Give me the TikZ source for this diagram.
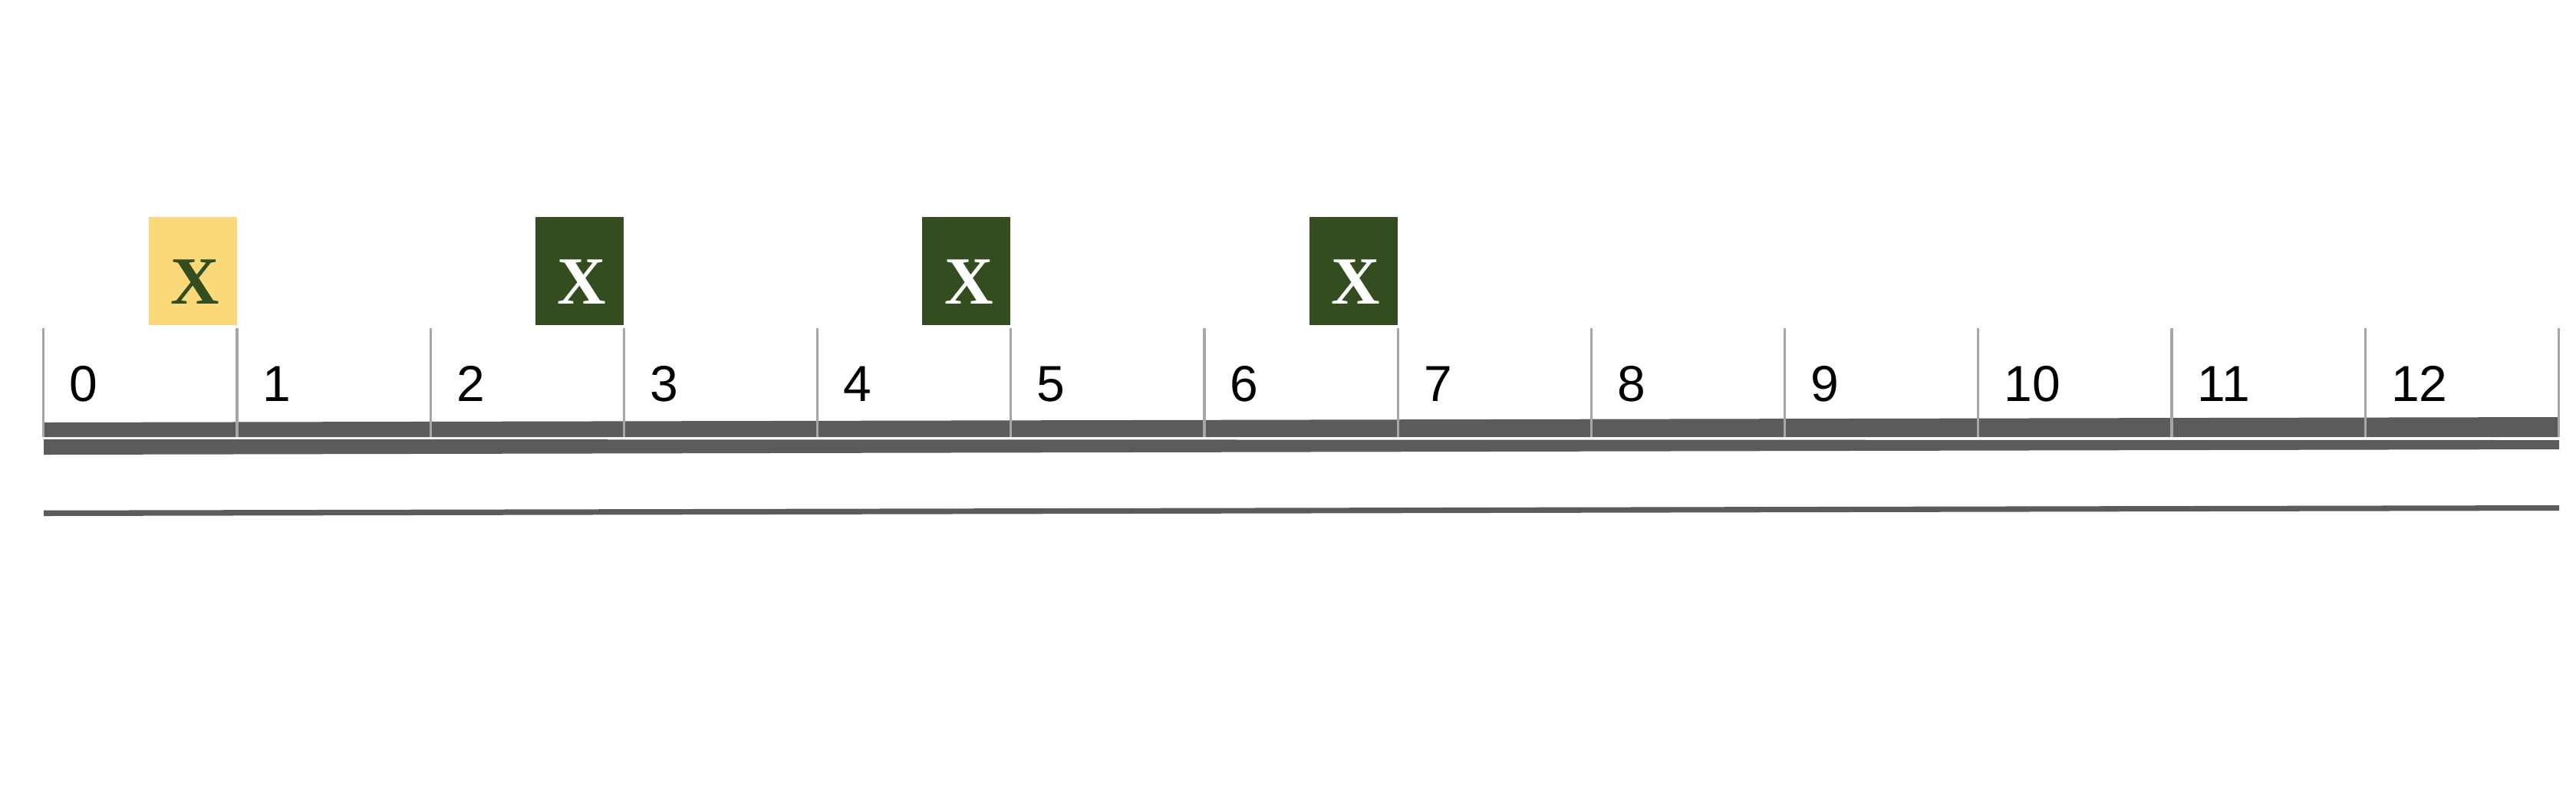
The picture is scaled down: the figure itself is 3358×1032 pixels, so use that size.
\documentclass[tikz,border=0pt]{standalone}
\usepackage{fontspec}
\setmainfont{Liberation Sans}
\newfontfamily\xserif{Liberation Serif}
\definecolor{barc}{RGB}{91,91,91}
\definecolor{tickc}{RGB}{166,166,166}
\definecolor{yel}{RGB}{249,217,122}
\definecolor{grn}{RGB}{52,77,30}
\tikzset{
  tickline/.style={draw=tickc,line width=0.8pt},
  numlab/.style={anchor=base west,inner sep=0pt,font=\fontsize{16.5}{18}\selectfont},
  xlab/.style={anchor=base,inner sep=0pt,font=\xserif\bfseries\fontsize{22}{24}\selectfont},
  cellbox/.style={inner sep=0pt,minimum width=28.75pt,minimum height=35.25pt,draw=none}
}
\begin{document}
\begin{tikzpicture}[x=0.25pt,y=-0.25pt]
\useasboundingbox (0,0) rectangle (3358,1032);
\fill[white] (0,0) rectangle (3358,1032);
% bars
\fill[barc] (57,551) -- (3336,544) -- (3336,570) -- (57,570) -- cycle;
\fill[barc] (57,573) -- (3336,574) -- (3336,586) -- (57,593) -- cycle;
\fill[barc] (57,665.7) -- (3336,659) -- (3336,666) -- (57,673) -- cycle;
% ticks and labels
\foreach \i in {0,...,13}{
  \coordinate (t\i) at ({56.8+252.2*\i},428);
  \coordinate (b\i) at ({56.8+252.2*\i},570);
  \draw[tickline] (t\i) -- (b\i);
}
\foreach \i in {0,...,12}{
  \node[numlab] (n\i) at ({56.8+252.2*\i+33},523) {\i};
}
% boxes
\node[cellbox,fill=yel] (x0) at ({56.8+252.2*1-58},353.5) {};
\node[xlab,text=grn] at ({56.8+252.2*1-55},396) {X};
\foreach \k in {3,5,7}{
  \node[cellbox,fill=grn] (x\k) at ({56.8+252.2*\k-58},353.5) {};
  \node[xlab,text=white] at ({56.8+252.2*\k-55},396) {X};
}
\end{tikzpicture}
\end{document}
